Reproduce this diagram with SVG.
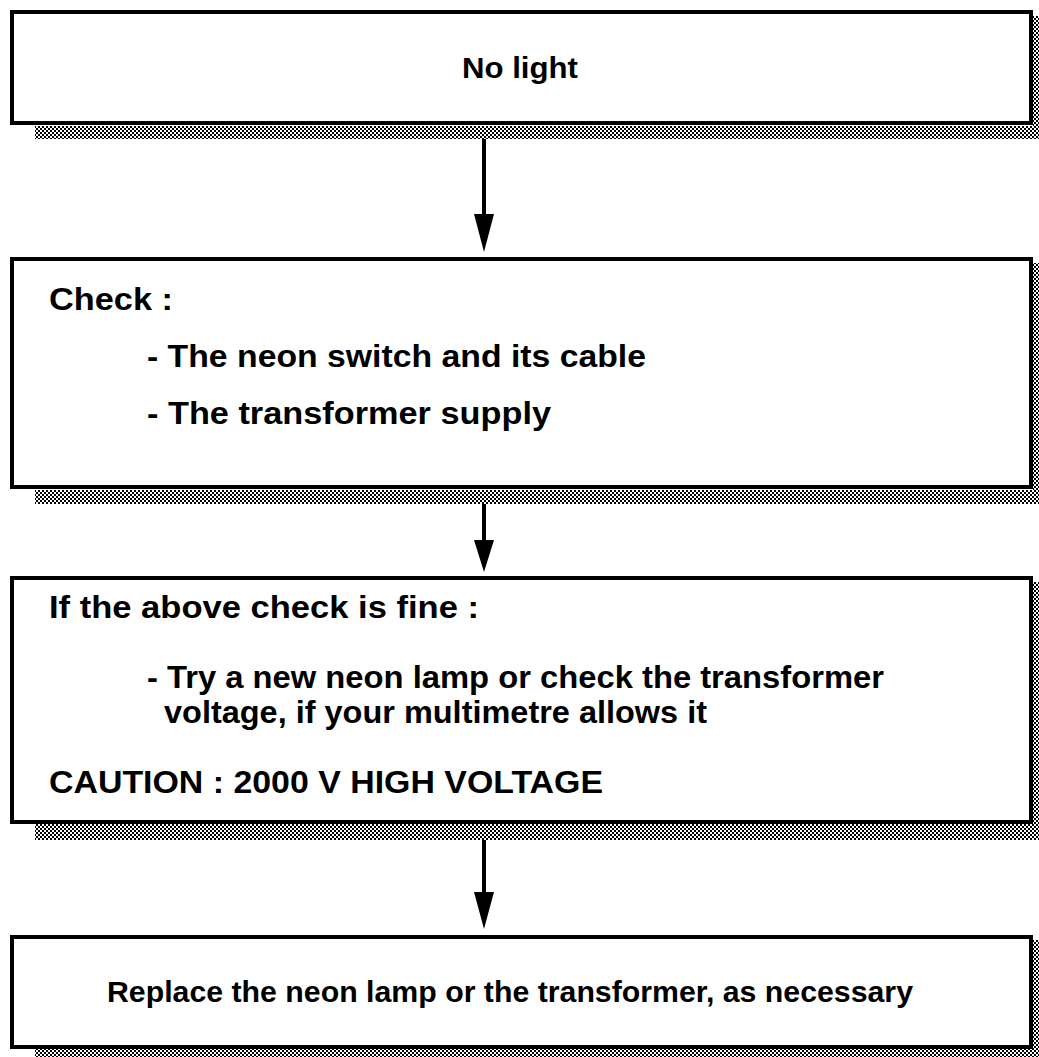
<svg xmlns="http://www.w3.org/2000/svg" width="1039" height="1057" viewBox="0 0 1039 1057">
<defs>
<pattern id="dither" width="4" height="4" patternUnits="userSpaceOnUse">
<rect width="4" height="4" fill="#fff"/>
<rect x="0" y="0" width="2" height="2" fill="#000"/>
<rect x="2" y="2" width="2" height="2" fill="#000"/>
</pattern>
</defs>
<style>
.box{fill:#fff;stroke:#000;stroke-width:4}
.sh{fill:url(#dither)}
.t{font-family:"Liberation Sans",Arial,Helvetica,sans-serif;font-weight:bold;font-size:30px;fill:#000}
.b{font-size:32px}
.ln{stroke:#000;stroke-width:4;fill:none}
.hd{fill:#000}
</style>
<rect width="1039" height="1057" fill="#fff"/>
<g id="node1">
<rect class="sh" x="35" y="126" width="1004" height="13"/>
<rect class="sh" x="1033" y="16" width="6" height="123"/>
<rect class="box" x="12" y="12" width="1019" height="111"/>
<text class="t" x="520" y="78" text-anchor="middle" textLength="116" lengthAdjust="spacingAndGlyphs">No light</text>
</g>
<g id="node2">
<rect class="sh" x="35" y="490" width="1004" height="14"/>
<rect class="sh" x="1033" y="263" width="6" height="241"/>
<rect class="box" x="12" y="259" width="1019" height="228"/>
<text class="t b" x="49" y="310" textLength="124" lengthAdjust="spacingAndGlyphs">Check :</text>
<text class="t b" x="147" y="367" textLength="499" lengthAdjust="spacingAndGlyphs">- The neon switch and its cable</text>
<text class="t b" x="147" y="424" textLength="404" lengthAdjust="spacingAndGlyphs">- The transformer supply</text>
</g>
<g id="node3">
<rect class="sh" x="35" y="824" width="1004" height="16"/>
<rect class="sh" x="1033" y="582" width="6" height="258"/>
<rect class="box" x="12" y="578" width="1019" height="244"/>
<text class="t b" x="49" y="618" textLength="430" lengthAdjust="spacingAndGlyphs">If the above check is fine :</text>
<text class="t b" x="147" y="688" textLength="737" lengthAdjust="spacingAndGlyphs">- Try a new neon lamp or check the transformer</text>
<text class="t b" x="164" y="723" textLength="543" lengthAdjust="spacingAndGlyphs">voltage, if your multimetre allows it</text>
<text class="t b" x="49" y="793" textLength="554" lengthAdjust="spacingAndGlyphs">CAUTION : 2000 V HIGH VOLTAGE</text>
</g>
<g id="node4">
<rect class="sh" x="35" y="1049" width="1004" height="8"/>
<rect class="sh" x="1033" y="940" width="6" height="117"/>
<rect class="box" x="12" y="937" width="1019" height="110"/>
<text class="t" x="510" y="1002" text-anchor="middle" textLength="806" lengthAdjust="spacingAndGlyphs">Replace the neon lamp or the transformer, as necessary</text>
</g>
<g id="connectors">
<line class="ln" x1="484" y1="139" x2="484" y2="216"/>
<polygon class="hd" points="474,214 494,214 484,252"/>
<line class="ln" x1="484" y1="504" x2="484" y2="542"/>
<polygon class="hd" points="474,540 494,540 484,572"/>
<line class="ln" x1="484" y1="840" x2="484" y2="894"/>
<polygon class="hd" points="474,892 494,892 484,929"/>
</g>
</svg>
